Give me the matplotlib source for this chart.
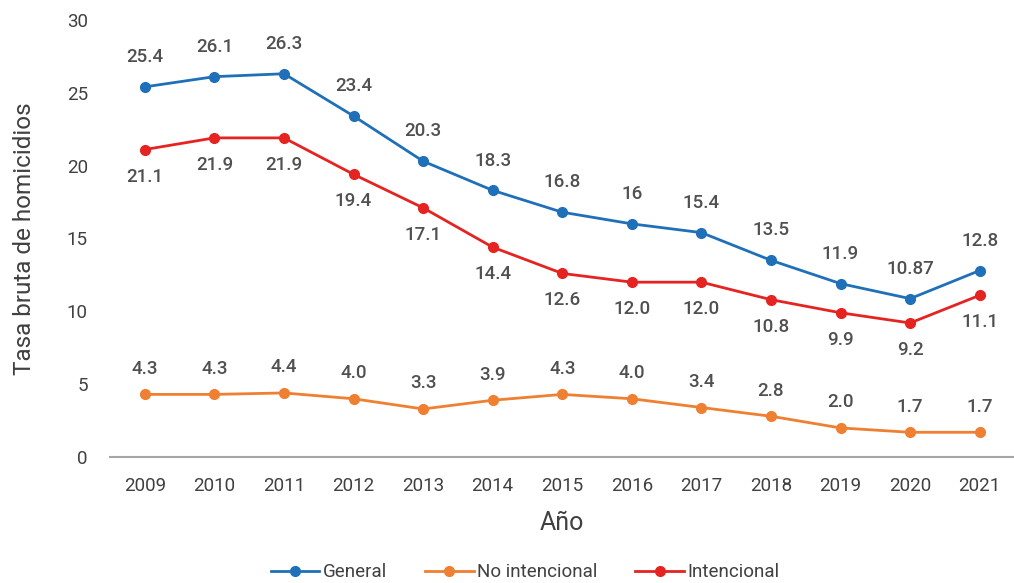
import matplotlib.pyplot as plt

plt.rcParams['font.family'] = ['Roboto', 'DejaVu Sans']

# datos
years = ['2009', '2010', '2011', '2012', '2013', '2014', '2015',
         '2016', '2017', '2018', '2019', '2020', '2021']
general = [25.4, 26.1, 26.3, 23.4, 20.3, 18.3, 16.8, 16, 15.4, 13.5, 11.9, 10.87, 12.8]
general_lbl = ['25.4', '26.1', '26.3', '23.4', '20.3', '18.3', '16.8', '16', '15.4',
               '13.5', '11.9', '10.87', '12.8']
no_intencional = [4.3, 4.3, 4.4, 4.0, 3.3, 3.9, 4.3, 4.0, 3.4, 2.8, 2.0, 1.7, 1.7]
intencional = [21.1, 21.9, 21.9, 19.4, 17.1, 14.4, 12.6, 12.0, 12.0, 10.8, 9.9, 9.2, 11.1]

c_gen = '#1f70b8'
c_no = '#ef7f31'
c_int = '#e52421'
txt = '#404040'
lbl = '#505050'

fig = plt.figure(figsize=(10.14, 5.83), dpi=100)
ax = fig.add_axes([0.1085, 0.216, 0.892, 0.75])

x = range(len(years))
ax.plot(x, general, color=c_gen, lw=2, marker='o', ms=7, label='General')
ax.plot(x, no_intencional, color=c_no, lw=2, marker='o', ms=7, label='No intencional')
ax.plot(x, intencional, color=c_int, lw=2, marker='o', ms=7, label='Intencional')

for i in x:
    ax.annotate(general_lbl[i], (i, general[i]), xytext=(0, 15), textcoords='offset points',
                ha='center', va='bottom', fontsize=13.5, color=lbl, fontweight='medium')
    ax.annotate(f'{no_intencional[i]:.1f}', (i, no_intencional[i]), xytext=(0, 12),
                textcoords='offset points', ha='center', va='bottom', fontsize=13.5,
                color=lbl, fontweight='medium')
    ax.annotate(f'{intencional[i]:.1f}', (i, intencional[i]), xytext=(0, -13),
                textcoords='offset points', ha='center', va='top', fontsize=13.5,
                color=lbl, fontweight='medium')

ax.set_xlim(-0.5, len(years) - 0.5)
ax.set_ylim(0, 30)
ax.set_xticks(list(x))
ax.set_xticklabels(years)
ax.set_yticks(range(0, 31, 5))
ax.tick_params(length=0, labelsize=13.5, colors=txt)
ax.tick_params(axis='x', pad=14)
ax.tick_params(axis='y', pad=16)

for s in ['top', 'right', 'left']:
    ax.spines[s].set_visible(False)
ax.spines['bottom'].set_color('#a6a6a6')
ax.spines['bottom'].set_linewidth(1.5)

ax.set_ylabel('Tasa bruta de homicidios', fontsize=17.5, color=txt, labelpad=22)
ax.set_xlabel('Año', fontsize=18, color=txt, labelpad=12)

ax.legend(loc='center', bbox_to_anchor=(0.459, -0.263), ncol=3, frameon=False,
          fontsize=13.5, labelcolor=txt, handlelength=2.6, handletextpad=0.2,
          columnspacing=2.0, borderaxespad=0, borderpad=0)

fig.savefig('out.png', dpi=100)
